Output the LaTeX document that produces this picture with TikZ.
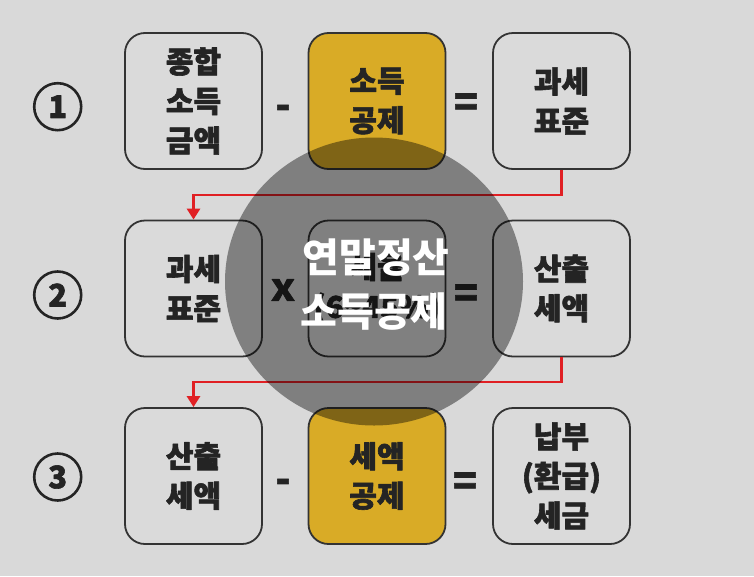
\documentclass[tikz,border=0pt]{standalone}
\usepackage{fontspec}
\setmainfont{Noto Sans CJK KR}
\usetikzlibrary{arrows.meta}
\newcommand\thickglyphs[1]{\special{pdf:code 2 Tr 0.6 w 1 j}#1\special{pdf:code 0 Tr}}
\definecolor{bgc}{RGB}{217,217,217}
\definecolor{boxc}{RGB}{218,218,218}
\definecolor{yel}{RGB}{217,171,38}
\definecolor{bordc}{RGB}{51,51,51}
\definecolor{txtc}{RGB}{36,36,36}
\definecolor{redc}{RGB}{224,32,36}
\tikzset{
  box/.style={draw=bordc, line width=1.8pt, rounded corners=20pt, minimum width=137pt, minimum height=136pt, fill=boxc, align=center, text=txtc, inner sep=0pt, font=\bfseries\fontsize{30}{39.5}\selectfont},
  ybox/.style={box, fill=yel},
  op/.style={text=txtc, inner sep=0pt, font=\bfseries\fontsize{40}{40}\selectfont},
  numc/.style={circle, draw=txtc, line width=2.6pt, minimum size=47pt, inner sep=0pt, text=txtc, font=\bfseries\fontsize{31}{31}\selectfont},
  redline/.style={draw=redc, line width=2.8pt, -{Triangle[width=13pt,length=11pt]}},
  wtxt/.style={text=white, inner sep=0pt, font=\bfseries\fontsize{40}{40}\selectfont}
}
\begin{document}
\begin{tikzpicture}[x=1pt,y=-1pt]
\useasboundingbox[fill=bgc] (0,0) rectangle (754,576);
% circled numbers
\node[numc] (n1) at (57.7,106.7) {\thickglyphs{1}};
\node[numc] (n2) at (57.7,295) {\thickglyphs{2}};
\node[numc] (n3) at (57.7,477) {\thickglyphs{3}};
% row 1
\node[box] (b11) at (193.5,101) {\thickglyphs{종합}\\\thickglyphs{소득}\\\thickglyphs{금액}};
\node[ybox] (b12) at (377,101) {\thickglyphs{소득}\\\thickglyphs{공제}};
\node[box] (b13) at (561.5,101) {\thickglyphs{과세}\\\thickglyphs{표준}};
\node[op] (o11) at (283,112) {\thickglyphs{-}};
\node[op] (o12) at (466,105) {\thickglyphs{=}};
% row 2
\node[box] (b21) at (193.5,288.5) {\thickglyphs{과세}\\\thickglyphs{표준}};
\node[box] (b22) at (377,288.5) {\thickglyphs{세율}\\\thickglyphs{(6\textasciitilde45\%)}};
\node[box] (b23) at (561.5,288.5) {\thickglyphs{산출}\\\thickglyphs{세액}};
\node[op, font=\bfseries\fontsize{29}{29}\selectfont] (o21) at (283,290) {\thickglyphs{\scalebox{1.25}[1]{X}}};
\node[op] (o22) at (466,296) {\thickglyphs{=}};
% row 3
\node[box] (b31) at (193.5,476) {\thickglyphs{산출}\\\thickglyphs{세액}};
\node[ybox] (b32) at (377,476) {\thickglyphs{세액}\\\thickglyphs{공제}};
\node[box] (b33) at (561.5,476) {\thickglyphs{납부}\\\thickglyphs{(환급)}\\\thickglyphs{세금}};
\node[op] (o31) at (283,486) {\thickglyphs{-}};
\node[op] (o32) at (465,484) {\thickglyphs{=}};
% connectors
\coordinate (t1) at (561.5,195);
\coordinate (t2) at (561.5,382);
\draw[redline] (b13.south) -- (t1) -| (b21.north);
\draw[redline] (b23.south) -- (t2) -| (b31.north);
% overlay
\fill[black, opacity=0.41] (374,281.5) ellipse [x radius=149, y radius=144];
\node[wtxt] (w1) at (376,258) {연말정산};
\node[wtxt] (w2) at (374,312) {소득공제};
\end{tikzpicture}
\end{document}
